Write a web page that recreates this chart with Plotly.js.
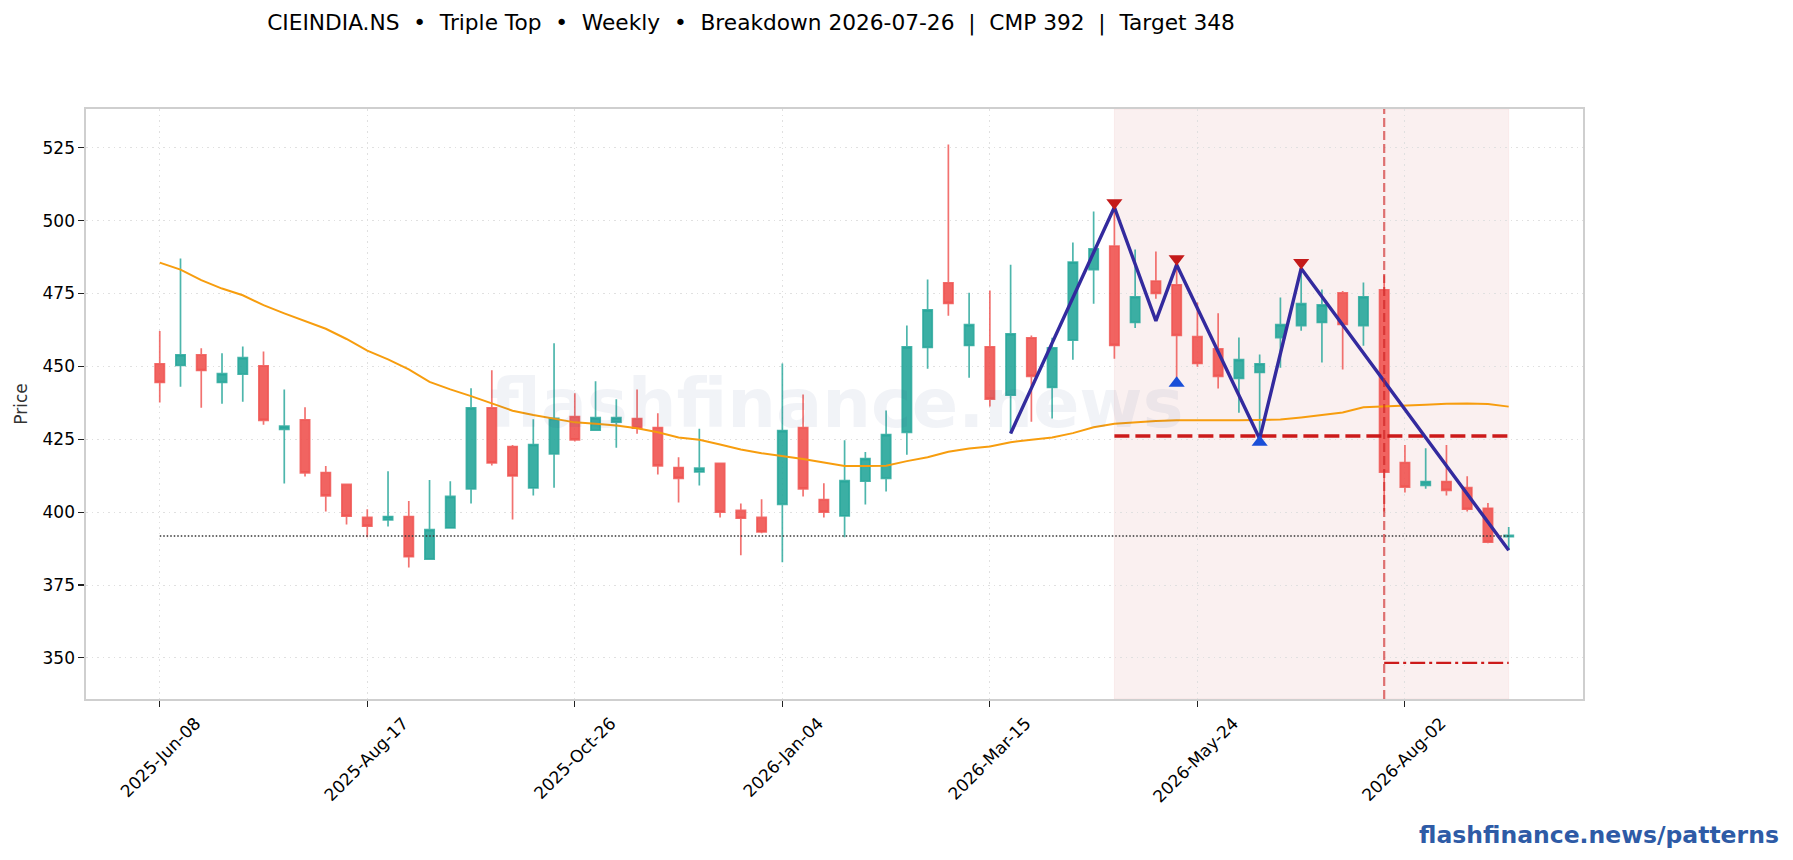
<!DOCTYPE html>
<html><head><meta charset="utf-8">
<script src="https://cdn.plot.ly/plotly-3.0.1.min.js"></script>
<style>html,body{margin:0;padding:0;background:#fff}</style>
</head><body><div id="chart" style="width:1793px;height:860px"></div>
<script>
const weeks=["2025-06-08","2025-06-15","2025-06-22","2025-06-29","2025-07-06","2025-07-13","2025-07-20","2025-07-27","2025-08-03","2025-08-10","2025-08-17","2025-08-24","2025-08-31","2025-09-07","2025-09-14","2025-09-21","2025-09-28","2025-10-05","2025-10-12","2025-10-19","2025-10-26","2025-11-02","2025-11-09","2025-11-16","2025-11-23","2025-11-30","2025-12-07","2025-12-14","2025-12-21","2025-12-28","2026-01-04","2026-01-11","2026-01-18","2026-01-25","2026-02-01","2026-02-08","2026-02-15","2026-02-22","2026-03-01","2026-03-08","2026-03-15","2026-03-22","2026-03-29","2026-04-05","2026-04-12","2026-04-19","2026-04-26","2026-05-03","2026-05-10","2026-05-17","2026-05-24","2026-05-31","2026-06-07","2026-06-14","2026-06-21","2026-06-28","2026-07-05","2026-07-12","2026-07-19","2026-07-26","2026-08-02","2026-08-09","2026-08-16","2026-08-23","2026-08-30","2026-09-06"];
const opens=[450.9,450.3,454,444.5,447.3,450.2,428.4,431.7,413.6,409.5,398.2,397.3,398.5,383.9,394.6,408,435.8,422.5,408.3,420,432.8,428.1,430.9,432.1,429,415.3,413.8,416.7,400.6,398.2,402.7,429,404.3,398.7,410.6,411.6,427.4,456.5,478.7,457.2,456.7,440.1,459.8,442.8,459,483.2,491.3,465.1,479.3,478,460.2,456,445.9,447.9,459.9,464,465.1,475.2,464,476.3,417,409.2,410.5,408.4,401.3,391.6];
const highs=[462.1,487,456.2,454.5,456.8,455.1,442.1,436,415.8,409.5,401,414,403.8,411,410.6,442.5,448.7,423,431.9,457.9,440.8,444.9,438.7,442.1,433.9,418.8,428.6,416.7,403,404.4,451,440.4,409.9,424.7,420.6,434.9,464,479.8,526.1,475.3,476,484.9,460.6,459.8,492.5,503.1,504.6,490.1,489.4,484.7,471.9,468.2,459.9,454.1,473.6,484.1,476.4,475.9,478.8,481.3,423,421.9,423,412.3,403.1,394.9];
const lows=[437.6,443,435.8,437.2,437.9,430,409.8,412.2,400.2,395.8,391.4,395.1,381,383.9,394.6,403,416,397.5,405.7,408.4,424.2,428.1,422.1,426.9,412.9,403.3,409.1,398.2,385.2,392.8,382.8,405.4,398.2,391.4,402.6,407.1,419.7,449.2,467.4,446.1,436.2,427,431,432.1,452.3,471.5,452.6,463.2,473.2,445.3,449.9,442.4,434.1,425.9,449.5,462.2,451.3,448.9,457.1,400.2,406.7,408,405.7,400.2,389.3,386.9];
const closes=[444.5,454,448.6,447.5,453,431.5,429.5,413.5,405.6,398.6,395.2,398.5,384.7,394,405.4,435.8,416.9,412.4,423.2,432.2,424.8,432.4,432.4,428.8,415.9,411.6,415.1,400,397.9,393.2,428,408,400,410.8,418.4,426.6,456.7,469.4,471.6,464.3,438.8,461.2,446.6,456.4,485.8,490.3,457.2,473.9,475,460.6,451,446.6,452.3,450.9,464.3,471.5,471.1,464.4,473.9,413.7,408.6,410.5,407.5,401,389.7,392];
const sma=[485.6,483.2,479.6,476.7,474.4,471,468.2,465.5,462.9,459.4,455.4,452.4,449,444.7,442.1,439.8,437.3,434.8,433.3,432,430.8,430.3,429.7,428.8,427.4,425.6,424.8,423.2,421.5,420.2,419.3,418.2,417,415.8,415.8,415.9,417.5,418.8,420.7,421.8,422.5,424,424.8,425.6,427.1,429.1,430.3,430.8,431.3,431.5,431.6,431.5,431.5,431.6,431.8,432.5,433.3,434.2,436,436.2,436.4,436.8,437.2,437.3,437.1,436.2];
const zigzagDates=["2026-03-22","2026-04-26","2026-05-10","2026-05-17","2026-06-14","2026-06-28","2026-09-06"];
const zigzagPrices=[427,504.6,465.6,484.9,425.2,483.6,386.9];
const topDates=["2026-04-26","2026-05-17","2026-06-28"];
const topPrices=[506.1,486.9,485.6];
const troughDates=["2026-05-17","2026-06-14"];
const troughPrices=[444.2,424];
const cmpDates=["2025-06-08","2026-09-06"];
const cmpLevels=[391.8,391.8];
const necklineDates=["2026-04-26","2026-09-06"];
const necklineLevels=[426.1,426.1];
const targetDates=["2026-07-26","2026-09-06"];
const targetLevels=[348.3,348.3];
const tickDates=["2025-06-08","2025-08-17","2025-10-26","2026-01-04","2026-03-15","2026-05-24","2026-08-02"];
const tickLabels=["2025-Jun-08","2025-Aug-17","2025-Oct-26","2026-Jan-04","2026-Mar-15","2026-May-24","2026-Aug-02"];
const priceTicks=[350,375,400,425,450,475,500,525];
const FONT='"DejaVu Sans",sans-serif';
const traces=[
{type:'candlestick',x:weeks,open:opens,high:highs,low:lows,close:closes,whiskerwidth:0,showlegend:false,hoverinfo:'skip',
 increasing:{line:{color:'rgba(38,166,154,0.82)',width:1.7},fillcolor:'rgba(38,166,154,0.9)'},
 decreasing:{line:{color:'rgba(239,83,80,0.82)',width:1.7},fillcolor:'rgba(239,83,80,0.9)'}},
{type:'scatter',mode:'lines',x:weeks,y:sma,line:{color:'#f79d0e',width:2},showlegend:false,hoverinfo:'skip'},
{type:'scatter',mode:'lines',x:cmpDates,y:cmpLevels,line:{color:'#333333',width:1.4,dash:'1.5px,2px'},showlegend:false,hoverinfo:'skip'},
{type:'scatter',mode:'lines',x:necklineDates,y:necklineLevels,line:{color:'#cc1a1a',width:3.4,dash:'15px,6px'},showlegend:false,hoverinfo:'skip'},
{type:'scatter',mode:'lines',x:targetDates,y:targetLevels,line:{color:'#cc1a1a',width:2.3,dash:'15px,4px,3px,4px'},showlegend:false,hoverinfo:'skip'},
{type:'scatter',mode:'lines',x:zigzagDates,y:zigzagPrices,line:{color:'#332a9e',width:3.4},showlegend:false,hoverinfo:'skip'},
{type:'scatter',mode:'markers',x:topDates,y:topPrices,marker:{symbol:'triangle-down',size:14,color:'#c41a1a'},showlegend:false,hoverinfo:'skip'},
{type:'scatter',mode:'markers',x:troughDates,y:troughPrices,marker:{symbol:'triangle-up',size:14,color:'#1a4fd8'},showlegend:false,hoverinfo:'skip'}
];
const layout={
 width:1793,height:860,autosize:false,paper_bgcolor:'#fff',plot_bgcolor:'#fff',showlegend:false,boxgap:0.36,
 margin:{l:85.5,r:210.3,t:108.5,b:160.5,pad:0},
 font:{family:FONT,color:'#000',size:16},
 title:{text:'CIEINDIA.NS  •  Triple Top  •  Weekly  •  Breakdown 2026-07-26  |  CMP 392  |  Target 348',x:751/1793,xanchor:'center',xref:'container',yref:'container',y:1-22/860,yanchor:'middle',font:{family:FONT,size:21.7,color:'#000'},pad:{t:0,b:0,l:0,r:0}},
 xaxis:{type:'date',range:['2025-05-14 03:00','2026-10-01 01:30'],rangeslider:{visible:false},tickmode:'array',tickvals:tickDates,ticktext:tickLabels,tickangle:-45,ticklabelshift:36,ticklabelstandoff:0,ticks:'outside',ticklen:6,tickwidth:1.1,tickcolor:'#222',tickfont:{family:FONT,size:17,color:'#000'},showgrid:true,gridcolor:'#e0e0e0',griddash:'1.5px,4px',gridwidth:1,showline:true,mirror:true,linecolor:'#cfcfcf',linewidth:1.6,zeroline:false},
 yaxis:{range:[335.9,538.3],tickmode:'array',tickvals:priceTicks,ticks:'outside',ticklen:6,tickwidth:1.1,tickcolor:'#222',tickfont:{family:FONT,size:17,color:'#000'},showgrid:true,gridcolor:'#e0e0e0',griddash:'1.5px,4px',gridwidth:1,showline:true,mirror:true,linecolor:'#cfcfcf',linewidth:1.6,zeroline:false,title:{text:'Price',font:{family:FONT,size:17,color:'#333'},standoff:10}},
 shapes:[
  {type:'rect',layer:'below',xref:'x',yref:'paper',x0:'2026-04-26',x1:'2026-09-06',y0:0,y1:1,fillcolor:'rgba(180,30,30,0.065)',line:{color:'rgba(204,26,26,0.05)',width:1}},
  {type:'line',layer:'above',xref:'x',yref:'paper',x0:'2026-07-26',x1:'2026-07-26',y0:0,y1:1,line:{color:'rgba(204,26,26,0.6)',width:2.2,dash:'9px,4px'}}
 ],
 annotations:[
  {text:'<b>flashfinance.news</b>',xref:'paper',yref:'paper',x:(836-85.5)/1497.2,y:(699.5-403)/591,xanchor:'center',yanchor:'middle',showarrow:false,font:{family:FONT,size:68.5,color:'rgba(40,80,140,0.065)'}},
  {text:'<b>flashfinance.news/patterns</b>',xref:'paper',yref:'paper',x:(1781-85.5)/1497.2,y:(699.5-836)/591,xanchor:'right',yanchor:'middle',showarrow:false,font:{family:FONT,size:23.5,color:'#2e5ba6'}}
 ]
};
Plotly.newPlot('chart',traces,layout,{staticPlot:true,displayModeBar:false});
</script></body></html>
